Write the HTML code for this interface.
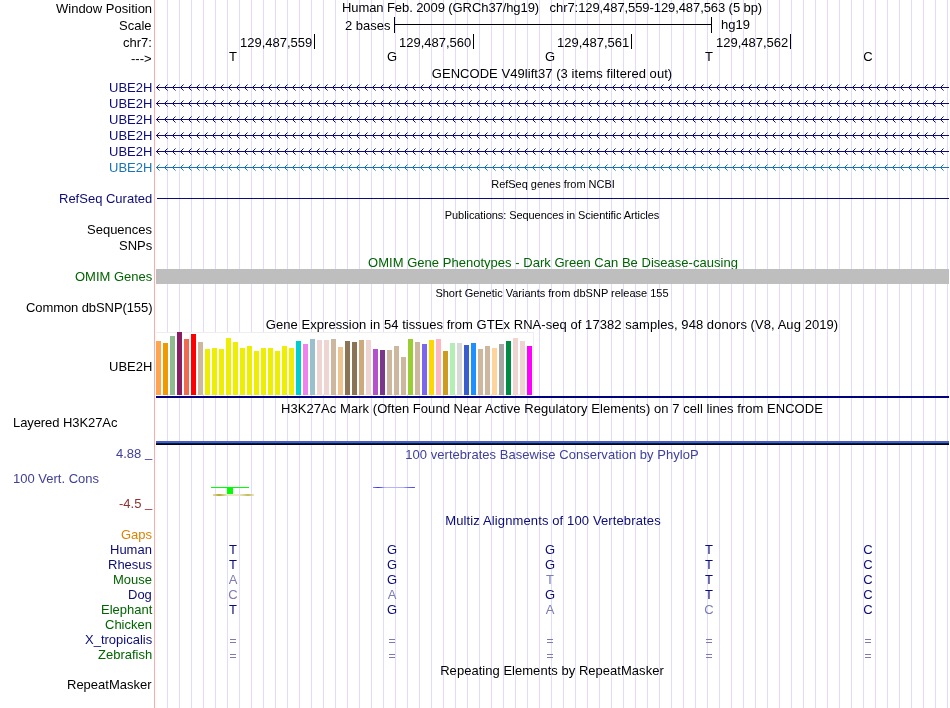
<!DOCTYPE html>
<html><head><meta charset="utf-8"><style>
html,body{margin:0;padding:0;background:#fff;width:950px;height:708px;overflow:hidden;position:relative}
.t{position:absolute;font-family:"Liberation Sans",sans-serif;white-space:pre;line-height:normal;will-change:transform}
.r{position:absolute}
.d{display:inline-block;transform:scaleY(0.952);transform-origin:0 12px}
</style></head><body>
<svg class="r" style="left:0;top:0" width="950" height="708" shape-rendering="crispEdges"><rect x="167" y="0" width="1" height="708" fill="#ddddff"/><rect x="179" y="0" width="1" height="708" fill="#ddddff"/><rect x="191" y="0" width="1" height="708" fill="#ddddff"/><rect x="203" y="0" width="1" height="708" fill="#ddddff"/><rect x="215" y="0" width="1" height="708" fill="#ddddff"/><rect x="227" y="0" width="1" height="708" fill="#ddddff"/><rect x="239" y="0" width="1" height="708" fill="#ddddff"/><rect x="251" y="0" width="1" height="708" fill="#ddddff"/><rect x="263" y="0" width="1" height="708" fill="#ddddff"/><rect x="275" y="0" width="1" height="708" fill="#ddddff"/><rect x="287" y="0" width="1" height="708" fill="#ddddff"/><rect x="299" y="0" width="1" height="708" fill="#ddddff"/><rect x="311" y="0" width="1" height="708" fill="#ddddff"/><rect x="323" y="0" width="1" height="708" fill="#ddddff"/><rect x="335" y="0" width="1" height="708" fill="#ddddff"/><rect x="347" y="0" width="1" height="708" fill="#ddddff"/><rect x="359" y="0" width="1" height="708" fill="#ddddff"/><rect x="371" y="0" width="1" height="708" fill="#ddddff"/><rect x="383" y="0" width="1" height="708" fill="#ddddff"/><rect x="395" y="0" width="1" height="708" fill="#ddddff"/><rect x="407" y="0" width="1" height="708" fill="#ddddff"/><rect x="419" y="0" width="1" height="708" fill="#ddddff"/><rect x="431" y="0" width="1" height="708" fill="#ddddff"/><rect x="443" y="0" width="1" height="708" fill="#ddddff"/><rect x="455" y="0" width="1" height="708" fill="#ddddff"/><rect x="467" y="0" width="1" height="708" fill="#ddddff"/><rect x="479" y="0" width="1" height="708" fill="#ddddff"/><rect x="491" y="0" width="1" height="708" fill="#ddddff"/><rect x="503" y="0" width="1" height="708" fill="#ddddff"/><rect x="515" y="0" width="1" height="708" fill="#ddddff"/><rect x="527" y="0" width="1" height="708" fill="#ddddff"/><rect x="539" y="0" width="1" height="708" fill="#ddddff"/><rect x="551" y="0" width="1" height="708" fill="#ddddff"/><rect x="563" y="0" width="1" height="708" fill="#ddddff"/><rect x="575" y="0" width="1" height="708" fill="#ddddff"/><rect x="587" y="0" width="1" height="708" fill="#ddddff"/><rect x="599" y="0" width="1" height="708" fill="#ddddff"/><rect x="611" y="0" width="1" height="708" fill="#ddddff"/><rect x="623" y="0" width="1" height="708" fill="#ddddff"/><rect x="635" y="0" width="1" height="708" fill="#ddddff"/><rect x="647" y="0" width="1" height="708" fill="#ddddff"/><rect x="659" y="0" width="1" height="708" fill="#ddddff"/><rect x="671" y="0" width="1" height="708" fill="#ddddff"/><rect x="683" y="0" width="1" height="708" fill="#ddddff"/><rect x="695" y="0" width="1" height="708" fill="#ddddff"/><rect x="707" y="0" width="1" height="708" fill="#ddddff"/><rect x="719" y="0" width="1" height="708" fill="#ddddff"/><rect x="731" y="0" width="1" height="708" fill="#ddddff"/><rect x="743" y="0" width="1" height="708" fill="#ddddff"/><rect x="755" y="0" width="1" height="708" fill="#ddddff"/><rect x="767" y="0" width="1" height="708" fill="#ddddff"/><rect x="779" y="0" width="1" height="708" fill="#ddddff"/><rect x="791" y="0" width="1" height="708" fill="#ddddff"/><rect x="803" y="0" width="1" height="708" fill="#ddddff"/><rect x="815" y="0" width="1" height="708" fill="#ddddff"/><rect x="827" y="0" width="1" height="708" fill="#ddddff"/><rect x="839" y="0" width="1" height="708" fill="#ddddff"/><rect x="851" y="0" width="1" height="708" fill="#ddddff"/><rect x="863" y="0" width="1" height="708" fill="#ddddff"/><rect x="875" y="0" width="1" height="708" fill="#ddddff"/><rect x="887" y="0" width="1" height="708" fill="#ddddff"/><rect x="899" y="0" width="1" height="708" fill="#ddddff"/><rect x="911" y="0" width="1" height="708" fill="#ddddff"/><rect x="923" y="0" width="1" height="708" fill="#ddddff"/><rect x="935" y="0" width="1" height="708" fill="#ddddff"/><rect x="947" y="0" width="1" height="708" fill="#ddddff"/><rect x="154" y="0" width="1" height="708" fill="#ffaaaa"/></svg>
<div class="t" style="top:1px;font-size:13px;color:#000;right:798px;transform:scaleY(1.05);transform-origin:0 12px;">Window Position</div>
<div class="t" style="top:0px;font-size:13px;color:#000;left:342px;transform:scaleY(1.05);transform-origin:0 12px;letter-spacing:-0.085px;">Human Feb. <span class="d">2009</span> (GRCh<span class="d">37</span>/hg<span class="d">19</span>)&nbsp;&nbsp;&nbsp;chr<span class="d">7</span>:<span class="d">129,487,559</span>-<span class="d">129,487,563</span> (<span class="d">5</span> bp)</div>
<div class="t" style="top:18px;font-size:13px;color:#000;right:798px;transform:scaleY(1.05);transform-origin:0 12px;">Scale</div>
<div class="t" style="top:18px;font-size:13px;color:#000;right:559px;transform:scaleY(1.05);transform-origin:0 12px;">2 bases</div>
<div class="r" style="left:394px;top:17px;width:1px;height:16px;background:#000;"></div>
<div class="r" style="left:394px;top:24px;width:318px;height:1px;background:#000;"></div>
<div class="r" style="left:711px;top:17px;width:1px;height:16px;background:#000;"></div>
<div class="t" style="top:17px;font-size:13px;color:#000;left:721px;">hg19</div>
<div class="t" style="top:35px;font-size:13px;color:#000;right:798px;transform:scaleY(1.05);transform-origin:0 12px;">chr7:</div>
<div class="r" style="left:314px;top:34px;width:1px;height:15px;background:#000;"></div>
<div class="t" style="top:35px;font-size:13px;color:#000;right:638px;">129,487,559</div>
<div class="r" style="left:473px;top:34px;width:1px;height:15px;background:#000;"></div>
<div class="t" style="top:35px;font-size:13px;color:#000;right:479px;">129,487,560</div>
<div class="r" style="left:631px;top:34px;width:1px;height:15px;background:#000;"></div>
<div class="t" style="top:35px;font-size:13px;color:#000;right:321px;">129,487,561</div>
<div class="r" style="left:790px;top:34px;width:1px;height:15px;background:#000;"></div>
<div class="t" style="top:35px;font-size:13px;color:#000;right:162px;">129,487,562</div>
<div class="t" style="top:51px;font-size:13px;color:#000;right:798px;transform:scaleY(1.05);transform-origin:0 12px;">---&gt;</div>
<div class="t" style="top:49px;font-size:13px;color:#000;left:-67px;width:600px;text-align:center;transform:scaleY(1.05);transform-origin:0 12px;">T</div>
<div class="t" style="top:49px;font-size:13px;color:#000;left:92px;width:600px;text-align:center;transform:scaleY(1.05);transform-origin:0 12px;">G</div>
<div class="t" style="top:49px;font-size:13px;color:#000;left:250px;width:600px;text-align:center;transform:scaleY(1.05);transform-origin:0 12px;">G</div>
<div class="t" style="top:49px;font-size:13px;color:#000;left:409px;width:600px;text-align:center;transform:scaleY(1.05);transform-origin:0 12px;">T</div>
<div class="t" style="top:49px;font-size:13px;color:#000;left:568px;width:600px;text-align:center;transform:scaleY(1.05);transform-origin:0 12px;">C</div>
<div class="t" style="top:66px;font-size:13px;color:#000;left:252px;width:600px;text-align:center;transform:scaleY(1.05);transform-origin:0 12px;letter-spacing:0.05px;">GENCODE V<span class="d">49</span>lift<span class="d">37</span> (<span class="d">3</span> items filtered out)</div>
<div class="t" style="top:80px;font-size:13px;color:#0c0c78;right:798px;transform:scaleY(1.05);transform-origin:0 12px;">UBE2H</div>
<svg class="r" style="left:156px;top:84px" width="794" height="7" shape-rendering="crispEdges"><defs><pattern id="chev0" x="0" y="0" width="8" height="7" patternUnits="userSpaceOnUse"><rect x="1" y="2" width="1" height="3" fill="#0c0c78"/><rect x="2" y="1" width="1" height="1" fill="#0c0c78"/><rect x="2" y="5" width="1" height="1" fill="#0c0c78"/><rect x="3" y="0" width="1" height="1" fill="#0c0c78" fill-opacity="0.55"/><rect x="3" y="6" width="1" height="1" fill="#0c0c78" fill-opacity="0.55"/></pattern></defs><rect x="0" y="3" width="793" height="1" fill="#0c0c78"/><rect x="0" y="0" width="790" height="7" fill="url(#chev0)"/></svg>
<div class="t" style="top:96px;font-size:13px;color:#0c0c78;right:798px;transform:scaleY(1.05);transform-origin:0 12px;">UBE2H</div>
<svg class="r" style="left:156px;top:100px" width="794" height="7" shape-rendering="crispEdges"><defs><pattern id="chev1" x="0" y="0" width="8" height="7" patternUnits="userSpaceOnUse"><rect x="1" y="2" width="1" height="3" fill="#0c0c78"/><rect x="2" y="1" width="1" height="1" fill="#0c0c78"/><rect x="2" y="5" width="1" height="1" fill="#0c0c78"/><rect x="3" y="0" width="1" height="1" fill="#0c0c78" fill-opacity="0.55"/><rect x="3" y="6" width="1" height="1" fill="#0c0c78" fill-opacity="0.55"/></pattern></defs><rect x="0" y="3" width="793" height="1" fill="#0c0c78"/><rect x="0" y="0" width="790" height="7" fill="url(#chev1)"/></svg>
<div class="t" style="top:112px;font-size:13px;color:#0c0c78;right:798px;transform:scaleY(1.05);transform-origin:0 12px;">UBE2H</div>
<svg class="r" style="left:156px;top:116px" width="794" height="7" shape-rendering="crispEdges"><defs><pattern id="chev2" x="0" y="0" width="8" height="7" patternUnits="userSpaceOnUse"><rect x="1" y="2" width="1" height="3" fill="#0c0c78"/><rect x="2" y="1" width="1" height="1" fill="#0c0c78"/><rect x="2" y="5" width="1" height="1" fill="#0c0c78"/><rect x="3" y="0" width="1" height="1" fill="#0c0c78" fill-opacity="0.55"/><rect x="3" y="6" width="1" height="1" fill="#0c0c78" fill-opacity="0.55"/></pattern></defs><rect x="0" y="3" width="793" height="1" fill="#0c0c78"/><rect x="0" y="0" width="790" height="7" fill="url(#chev2)"/></svg>
<div class="t" style="top:128px;font-size:13px;color:#0c0c78;right:798px;transform:scaleY(1.05);transform-origin:0 12px;">UBE2H</div>
<svg class="r" style="left:156px;top:132px" width="794" height="7" shape-rendering="crispEdges"><defs><pattern id="chev3" x="0" y="0" width="8" height="7" patternUnits="userSpaceOnUse"><rect x="1" y="2" width="1" height="3" fill="#0c0c78"/><rect x="2" y="1" width="1" height="1" fill="#0c0c78"/><rect x="2" y="5" width="1" height="1" fill="#0c0c78"/><rect x="3" y="0" width="1" height="1" fill="#0c0c78" fill-opacity="0.55"/><rect x="3" y="6" width="1" height="1" fill="#0c0c78" fill-opacity="0.55"/></pattern></defs><rect x="0" y="3" width="793" height="1" fill="#0c0c78"/><rect x="0" y="0" width="790" height="7" fill="url(#chev3)"/></svg>
<div class="t" style="top:144px;font-size:13px;color:#0c0c78;right:798px;transform:scaleY(1.05);transform-origin:0 12px;">UBE2H</div>
<svg class="r" style="left:156px;top:148px" width="794" height="7" shape-rendering="crispEdges"><defs><pattern id="chev4" x="0" y="0" width="8" height="7" patternUnits="userSpaceOnUse"><rect x="1" y="2" width="1" height="3" fill="#0c0c78"/><rect x="2" y="1" width="1" height="1" fill="#0c0c78"/><rect x="2" y="5" width="1" height="1" fill="#0c0c78"/><rect x="3" y="0" width="1" height="1" fill="#0c0c78" fill-opacity="0.55"/><rect x="3" y="6" width="1" height="1" fill="#0c0c78" fill-opacity="0.55"/></pattern></defs><rect x="0" y="3" width="793" height="1" fill="#0c0c78"/><rect x="0" y="0" width="790" height="7" fill="url(#chev4)"/></svg>
<div class="t" style="top:160px;font-size:13px;color:#1a74b4;right:798px;transform:scaleY(1.05);transform-origin:0 12px;">UBE2H</div>
<svg class="r" style="left:156px;top:164px" width="794" height="7" shape-rendering="crispEdges"><defs><pattern id="chev5" x="0" y="0" width="8" height="7" patternUnits="userSpaceOnUse"><rect x="1" y="2" width="1" height="3" fill="#1a74b4"/><rect x="2" y="1" width="1" height="1" fill="#1a74b4"/><rect x="2" y="5" width="1" height="1" fill="#1a74b4"/><rect x="3" y="0" width="1" height="1" fill="#1a74b4" fill-opacity="0.55"/><rect x="3" y="6" width="1" height="1" fill="#1a74b4" fill-opacity="0.55"/></pattern></defs><rect x="0" y="3" width="793" height="1" fill="#1a74b4"/><rect x="0" y="0" width="790" height="7" fill="url(#chev5)"/></svg>
<div class="t" style="top:178px;font-size:11px;color:#000;left:252.5px;width:600px;text-align:center;letter-spacing:-0.03px;">RefSeq genes from NCBI</div>
<div class="t" style="top:191px;font-size:13px;color:#0c0c78;right:798px;transform:scaleY(1.05);transform-origin:0 12px;">RefSeq Curated</div>
<div class="r" style="left:157px;top:198px;width:792px;height:1px;background:#0c0c78;"></div>
<div class="t" style="top:209px;font-size:11px;color:#000;left:252px;width:600px;text-align:center;letter-spacing:-0.07px;">Publications: Sequences in Scientific Articles</div>
<div class="t" style="top:222px;font-size:13px;color:#000;right:798px;transform:scaleY(1.05);transform-origin:0 12px;">Sequences</div>
<div class="t" style="top:238px;font-size:13px;color:#000;right:798px;transform:scaleY(1.05);transform-origin:0 12px;">SNPs</div>
<div class="t" style="top:255px;font-size:13px;color:#006400;left:252.70000000000005px;width:600px;text-align:center;transform:scaleY(1.05);transform-origin:0 12px;letter-spacing:0.025px;">OMIM Gene Phenotypes - Dark Green Can Be Disease-causing</div>
<div class="t" style="top:269px;font-size:13px;color:#006400;right:798px;transform:scaleY(1.05);transform-origin:0 12px;">OMIM Genes</div>
<div class="r" style="left:156px;top:269px;width:793px;height:15px;background:#bebebe;"></div>
<div class="t" style="top:287px;font-size:11px;color:#000;left:252px;width:600px;text-align:center;">Short Genetic Variants from dbSNP release 155</div>
<div class="t" style="top:300px;font-size:13px;color:#000;right:798px;transform:scaleY(1.05);transform-origin:0 12px;letter-spacing:-0.09px;">Common dbSNP(<span class="d">155</span>)</div>
<div class="t" style="top:317px;font-size:13px;color:#000;left:252px;width:600px;text-align:center;transform:scaleY(1.05);transform-origin:0 12px;letter-spacing:0.055px;">Gene Expression in <span class="d">54</span> tissues from GTEx RNA-seq of <span class="d">17382</span> samples, <span class="d">948</span> donors (V<span class="d">8</span>, Aug <span class="d">2019</span>)</div>
<div class="r" style="left:156px;top:332px;width:378px;height:63px;background:#fff;border-top:1px solid #eee;border-right:1px solid #eee;border-bottom:1px solid #eee;box-sizing:border-box"></div>
<div class="r" style="left:156px;top:341px;width:5px;height:54px;background:#FFA54F;"></div>
<div class="r" style="left:163px;top:343px;width:5px;height:52px;background:#EE9A00;"></div>
<div class="r" style="left:170px;top:336px;width:5px;height:59px;background:#8FBC8F;"></div>
<div class="r" style="left:177px;top:332px;width:5px;height:63px;background:#8B1C62;"></div>
<div class="r" style="left:184px;top:339px;width:5px;height:56px;background:#EE6A50;"></div>
<div class="r" style="left:191px;top:334px;width:5px;height:61px;background:#FF0000;"></div>
<div class="r" style="left:198px;top:342px;width:5px;height:53px;background:#CDB79E;"></div>
<div class="r" style="left:205px;top:349px;width:5px;height:46px;background:#EEEE00;"></div>
<div class="r" style="left:212px;top:348px;width:5px;height:47px;background:#EEEE00;"></div>
<div class="r" style="left:219px;top:349px;width:5px;height:46px;background:#EEEE00;"></div>
<div class="r" style="left:226px;top:338px;width:5px;height:57px;background:#EEEE00;"></div>
<div class="r" style="left:233px;top:342px;width:5px;height:53px;background:#EEEE00;"></div>
<div class="r" style="left:240px;top:348px;width:5px;height:47px;background:#EEEE00;"></div>
<div class="r" style="left:247px;top:346px;width:5px;height:49px;background:#EEEE00;"></div>
<div class="r" style="left:254px;top:351px;width:5px;height:44px;background:#EEEE00;"></div>
<div class="r" style="left:261px;top:348px;width:5px;height:47px;background:#EEEE00;"></div>
<div class="r" style="left:268px;top:348px;width:5px;height:47px;background:#EEEE00;"></div>
<div class="r" style="left:275px;top:351px;width:5px;height:44px;background:#EEEE00;"></div>
<div class="r" style="left:282px;top:346px;width:5px;height:49px;background:#EEEE00;"></div>
<div class="r" style="left:289px;top:348px;width:5px;height:47px;background:#EEEE00;"></div>
<div class="r" style="left:296px;top:341px;width:5px;height:54px;background:#00CDCD;"></div>
<div class="r" style="left:303px;top:344px;width:5px;height:51px;background:#EE82EE;"></div>
<div class="r" style="left:310px;top:339px;width:5px;height:56px;background:#9AC0CD;"></div>
<div class="r" style="left:317px;top:340px;width:5px;height:55px;background:#EED5D2;"></div>
<div class="r" style="left:324px;top:340px;width:5px;height:55px;background:#EED5D2;"></div>
<div class="r" style="left:331px;top:339px;width:5px;height:56px;background:#CDB79E;"></div>
<div class="r" style="left:338px;top:347px;width:5px;height:48px;background:#EEC591;"></div>
<div class="r" style="left:345px;top:341px;width:5px;height:54px;background:#8B7355;"></div>
<div class="r" style="left:352px;top:342px;width:5px;height:53px;background:#8B7355;"></div>
<div class="r" style="left:359px;top:340px;width:5px;height:55px;background:#CDAA7D;"></div>
<div class="r" style="left:366px;top:340px;width:5px;height:55px;background:#EED5D2;"></div>
<div class="r" style="left:373px;top:349px;width:5px;height:46px;background:#B452CD;"></div>
<div class="r" style="left:380px;top:350px;width:5px;height:45px;background:#7A378B;"></div>
<div class="r" style="left:387px;top:350px;width:5px;height:45px;background:#CDB79E;"></div>
<div class="r" style="left:394px;top:346px;width:5px;height:49px;background:#CDB79E;"></div>
<div class="r" style="left:401px;top:357px;width:5px;height:38px;background:#CDB79E;"></div>
<div class="r" style="left:408px;top:339px;width:5px;height:56px;background:#9ACD32;"></div>
<div class="r" style="left:415px;top:342px;width:5px;height:53px;background:#CDB79E;"></div>
<div class="r" style="left:422px;top:344px;width:5px;height:51px;background:#7A67EE;"></div>
<div class="r" style="left:429px;top:340px;width:5px;height:55px;background:#FFD700;"></div>
<div class="r" style="left:436px;top:339px;width:5px;height:56px;background:#FFB6C1;"></div>
<div class="r" style="left:443px;top:351px;width:5px;height:44px;background:#CD9B1D;"></div>
<div class="r" style="left:450px;top:343px;width:5px;height:52px;background:#B4EEB4;"></div>
<div class="r" style="left:457px;top:343px;width:5px;height:52px;background:#D9D9D9;"></div>
<div class="r" style="left:464px;top:345px;width:5px;height:50px;background:#3A5FCD;"></div>
<div class="r" style="left:471px;top:343px;width:5px;height:52px;background:#1E90FF;"></div>
<div class="r" style="left:478px;top:349px;width:5px;height:46px;background:#CDB79E;"></div>
<div class="r" style="left:485px;top:346px;width:5px;height:49px;background:#CDB79E;"></div>
<div class="r" style="left:492px;top:348px;width:5px;height:47px;background:#FFD39B;"></div>
<div class="r" style="left:499px;top:344px;width:5px;height:51px;background:#A6A6A6;"></div>
<div class="r" style="left:506px;top:341px;width:5px;height:54px;background:#008B45;"></div>
<div class="r" style="left:513px;top:338px;width:5px;height:57px;background:#EED5D2;"></div>
<div class="r" style="left:520px;top:341px;width:5px;height:54px;background:#EED5D2;"></div>
<div class="r" style="left:527px;top:346px;width:5px;height:49px;background:#FF00FF;"></div>
<div class="t" style="top:359px;font-size:13px;color:#000;right:798px;transform:scaleY(1.05);transform-origin:0 12px;">UBE2H</div>
<div class="r" style="left:156px;top:396px;width:793px;height:2px;background:#000080;"></div>
<div class="t" style="top:401px;font-size:13px;color:#000;left:251.75px;width:600px;text-align:center;transform:scaleY(1.05);transform-origin:0 12px;letter-spacing:0.05px;">H<span class="d">3</span>K<span class="d">27</span>Ac Mark (Often Found Near Active Regulatory Elements) on <span class="d">7</span> cell lines from ENCODE</div>
<div class="t" style="top:415px;font-size:13px;color:#000;left:13px;transform:scaleY(1.05);transform-origin:0 12px;letter-spacing:-0.08px;">Layered H<span class="d">3</span>K<span class="d">27</span>Ac</div>
<div class="r" style="left:156px;top:441px;width:793px;height:1px;background:#4a5cc4;"></div>
<div class="r" style="left:156px;top:442px;width:793px;height:1px;background:#3068d0;"></div>
<div class="r" style="left:156px;top:443px;width:793px;height:1px;background:#15153f;"></div>
<div class="r" style="left:156px;top:444px;width:793px;height:1px;background:#050018;"></div>
<div class="t" style="top:446px;font-size:13px;color:#40409a;right:798px;">4.88 <span style="position:relative;top:-1px">_</span></div>
<div class="t" style="top:447px;font-size:13px;color:#40409a;left:252px;width:600px;text-align:center;transform:scaleY(1.05);transform-origin:0 12px;letter-spacing:0.03px;"><span class="d">100</span> vertebrates Basewise Conservation by PhyloP</div>
<div class="t" style="top:471px;font-size:13px;color:#40409a;left:13px;transform:scaleY(1.05);transform-origin:0 12px;"><span class="d">100</span> Vert. Cons</div>
<div class="t" style="top:496px;font-size:13px;color:#903030;right:798px;">-4.5 <span style="position:relative;top:-1px">_</span></div>
<div class="r" style="left:211px;top:487px;width:38px;height:1px;background:#00ff00;"></div>
<div class="r" style="left:227px;top:487px;width:6px;height:7px;background:#00ff00;"></div>
<div class="r" style="left:213px;top:494px;width:41px;height:2px;background:linear-gradient(to right,#e4dca8 0px,#b4ac34 6px,#c8c060 9px,#ebe7c6 14px,#ece8c8 26px,#d8d290 31px,#c4bc58 35px,#d4ce80 38px,#ece8c8 41px)"></div>
<div class="r" style="left:373px;top:487px;width:42px;height:1px;background:linear-gradient(to right,#8080ff 0px,#3030ff 5px,#7070ff 9px,#b8b8ff 12px,#b0b0ff 30px,#6868ff 35px,#4848ff 40px,#6060ff 42px)"></div>
<div class="t" style="top:513px;font-size:13px;color:#0c0c78;left:252.5px;width:600px;text-align:center;transform:scaleY(1.05);transform-origin:0 12px;letter-spacing:0.125px;">Multiz Alignments of <span class="d">100</span> Vertebrates</div>
<div class="t" style="top:527px;font-size:13px;color:#e08000;right:798px;transform:scaleY(1.05);transform-origin:0 12px;">Gaps</div>
<div class="t" style="top:542px;font-size:13px;color:#0c0c78;right:798px;transform:scaleY(1.05);transform-origin:0 12px;">Human</div>
<div class="t" style="top:557px;font-size:13px;color:#0c0c78;right:798px;transform:scaleY(1.05);transform-origin:0 12px;">Rhesus</div>
<div class="t" style="top:572px;font-size:13px;color:#006400;right:798px;transform:scaleY(1.05);transform-origin:0 12px;">Mouse</div>
<div class="t" style="top:587px;font-size:13px;color:#0c0c78;right:798px;transform:scaleY(1.05);transform-origin:0 12px;">Dog</div>
<div class="t" style="top:602px;font-size:13px;color:#006400;right:798px;transform:scaleY(1.05);transform-origin:0 12px;">Elephant</div>
<div class="t" style="top:617px;font-size:13px;color:#006400;right:798px;transform:scaleY(1.05);transform-origin:0 12px;">Chicken</div>
<div class="t" style="top:632px;font-size:13px;color:#0c0c78;right:798px;transform:scaleY(1.05);transform-origin:0 12px;">X_tropicalis</div>
<div class="t" style="top:647px;font-size:13px;color:#006400;right:798px;transform:scaleY(1.05);transform-origin:0 12px;">Zebrafish</div>
<div class="t" style="top:542px;font-size:13px;color:#0c0c78;left:-67px;width:600px;text-align:center;transform:scaleY(1.05);transform-origin:0 12px;">T</div>
<div class="t" style="top:542px;font-size:13px;color:#0c0c78;left:92px;width:600px;text-align:center;transform:scaleY(1.05);transform-origin:0 12px;">G</div>
<div class="t" style="top:542px;font-size:13px;color:#0c0c78;left:250px;width:600px;text-align:center;transform:scaleY(1.05);transform-origin:0 12px;">G</div>
<div class="t" style="top:542px;font-size:13px;color:#0c0c78;left:409px;width:600px;text-align:center;transform:scaleY(1.05);transform-origin:0 12px;">T</div>
<div class="t" style="top:542px;font-size:13px;color:#0c0c78;left:568px;width:600px;text-align:center;transform:scaleY(1.05);transform-origin:0 12px;">C</div>
<div class="t" style="top:557px;font-size:13px;color:#0c0c78;left:-67px;width:600px;text-align:center;transform:scaleY(1.05);transform-origin:0 12px;">T</div>
<div class="t" style="top:557px;font-size:13px;color:#0c0c78;left:92px;width:600px;text-align:center;transform:scaleY(1.05);transform-origin:0 12px;">G</div>
<div class="t" style="top:557px;font-size:13px;color:#0c0c78;left:250px;width:600px;text-align:center;transform:scaleY(1.05);transform-origin:0 12px;">G</div>
<div class="t" style="top:557px;font-size:13px;color:#0c0c78;left:409px;width:600px;text-align:center;transform:scaleY(1.05);transform-origin:0 12px;">T</div>
<div class="t" style="top:557px;font-size:13px;color:#0c0c78;left:568px;width:600px;text-align:center;transform:scaleY(1.05);transform-origin:0 12px;">C</div>
<div class="t" style="top:572px;font-size:13px;color:#7c7cb2;left:-67px;width:600px;text-align:center;transform:scaleY(1.05);transform-origin:0 12px;">A</div>
<div class="t" style="top:572px;font-size:13px;color:#0c0c78;left:92px;width:600px;text-align:center;transform:scaleY(1.05);transform-origin:0 12px;">G</div>
<div class="t" style="top:572px;font-size:13px;color:#7c7cb2;left:250px;width:600px;text-align:center;transform:scaleY(1.05);transform-origin:0 12px;">T</div>
<div class="t" style="top:572px;font-size:13px;color:#0c0c78;left:409px;width:600px;text-align:center;transform:scaleY(1.05);transform-origin:0 12px;">T</div>
<div class="t" style="top:572px;font-size:13px;color:#0c0c78;left:568px;width:600px;text-align:center;transform:scaleY(1.05);transform-origin:0 12px;">C</div>
<div class="t" style="top:587px;font-size:13px;color:#7c7cb2;left:-67px;width:600px;text-align:center;transform:scaleY(1.05);transform-origin:0 12px;">C</div>
<div class="t" style="top:587px;font-size:13px;color:#7c7cb2;left:92px;width:600px;text-align:center;transform:scaleY(1.05);transform-origin:0 12px;">A</div>
<div class="t" style="top:587px;font-size:13px;color:#0c0c78;left:250px;width:600px;text-align:center;transform:scaleY(1.05);transform-origin:0 12px;">G</div>
<div class="t" style="top:587px;font-size:13px;color:#0c0c78;left:409px;width:600px;text-align:center;transform:scaleY(1.05);transform-origin:0 12px;">T</div>
<div class="t" style="top:587px;font-size:13px;color:#0c0c78;left:568px;width:600px;text-align:center;transform:scaleY(1.05);transform-origin:0 12px;">C</div>
<div class="t" style="top:602px;font-size:13px;color:#0c0c78;left:-67px;width:600px;text-align:center;transform:scaleY(1.05);transform-origin:0 12px;">T</div>
<div class="t" style="top:602px;font-size:13px;color:#0c0c78;left:92px;width:600px;text-align:center;transform:scaleY(1.05);transform-origin:0 12px;">G</div>
<div class="t" style="top:602px;font-size:13px;color:#7c7cb2;left:250px;width:600px;text-align:center;transform:scaleY(1.05);transform-origin:0 12px;">A</div>
<div class="t" style="top:602px;font-size:13px;color:#7c7cb2;left:409px;width:600px;text-align:center;transform:scaleY(1.05);transform-origin:0 12px;">C</div>
<div class="t" style="top:602px;font-size:13px;color:#0c0c78;left:568px;width:600px;text-align:center;transform:scaleY(1.05);transform-origin:0 12px;">C</div>
<div class="r" style="left:230px;top:639px;width:6px;height:1px;background:#7c7cb2;"></div>
<div class="r" style="left:230px;top:642px;width:6px;height:1px;background:#7c7cb2;"></div>
<div class="r" style="left:389px;top:639px;width:6px;height:1px;background:#7c7cb2;"></div>
<div class="r" style="left:389px;top:642px;width:6px;height:1px;background:#7c7cb2;"></div>
<div class="r" style="left:547px;top:639px;width:6px;height:1px;background:#7c7cb2;"></div>
<div class="r" style="left:547px;top:642px;width:6px;height:1px;background:#7c7cb2;"></div>
<div class="r" style="left:706px;top:639px;width:6px;height:1px;background:#7c7cb2;"></div>
<div class="r" style="left:706px;top:642px;width:6px;height:1px;background:#7c7cb2;"></div>
<div class="r" style="left:865px;top:639px;width:6px;height:1px;background:#7c7cb2;"></div>
<div class="r" style="left:865px;top:642px;width:6px;height:1px;background:#7c7cb2;"></div>
<div class="r" style="left:230px;top:654px;width:6px;height:1px;background:#7c7cb2;"></div>
<div class="r" style="left:230px;top:657px;width:6px;height:1px;background:#7c7cb2;"></div>
<div class="r" style="left:389px;top:654px;width:6px;height:1px;background:#7c7cb2;"></div>
<div class="r" style="left:389px;top:657px;width:6px;height:1px;background:#7c7cb2;"></div>
<div class="r" style="left:547px;top:654px;width:6px;height:1px;background:#7c7cb2;"></div>
<div class="r" style="left:547px;top:657px;width:6px;height:1px;background:#7c7cb2;"></div>
<div class="r" style="left:706px;top:654px;width:6px;height:1px;background:#7c7cb2;"></div>
<div class="r" style="left:706px;top:657px;width:6px;height:1px;background:#7c7cb2;"></div>
<div class="r" style="left:865px;top:654px;width:6px;height:1px;background:#7c7cb2;"></div>
<div class="r" style="left:865px;top:657px;width:6px;height:1px;background:#7c7cb2;"></div>
<div class="t" style="top:663px;font-size:13px;color:#000;left:252px;width:600px;text-align:center;transform:scaleY(1.05);transform-origin:0 12px;letter-spacing:0.03px;">Repeating Elements by RepeatMasker</div>
<div class="t" style="top:677px;font-size:13px;color:#000;right:798px;transform:scaleY(1.05);transform-origin:0 12px;">RepeatMasker</div>
</body></html>
